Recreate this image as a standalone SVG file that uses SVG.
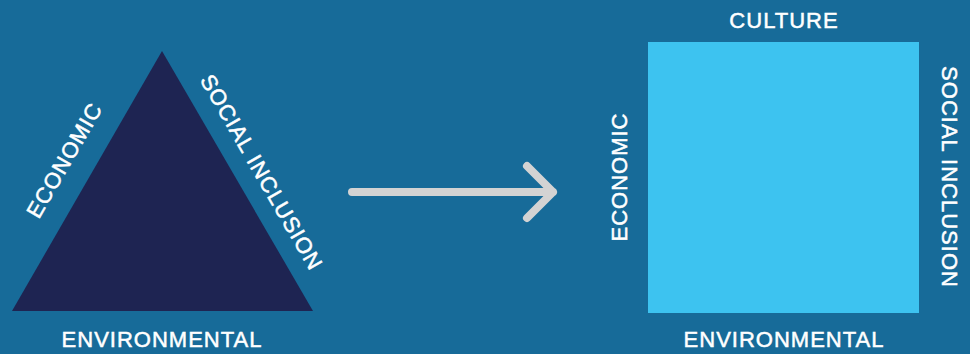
<svg xmlns="http://www.w3.org/2000/svg" width="970" height="354" viewBox="0 0 970 354">
<style>
.lbl{font-family:"Liberation Sans",Arial,sans-serif;font-size:22px;fill:#ffffff;stroke:#ffffff;stroke-width:0.5;letter-spacing:1px;text-anchor:middle}
.arrow{stroke:#d3d3d3;stroke-width:8;stroke-linecap:round;stroke-linejoin:round;fill:none}
</style>
<rect width="970" height="354" fill="#176b99"/>
<g id="triangle">
<polygon points="162,51 12,311 313,311" fill="#1e2452"/>
<text class="lbl" transform="translate(71,164) rotate(-60)">ECONOMIC</text>
<text class="lbl" transform="translate(255,176) rotate(60)">SOCIAL INCLUSION</text>
<text class="lbl" x="162" y="347">ENVIRONMENTAL</text>
</g>
<g id="connectors">
<path class="arrow" d="M352,192 H553 M527,166 L553,192 L527,218"/>
</g>
<g id="square">
<rect x="648" y="42" width="271" height="271" fill="#3dc3f0"/>
<text class="lbl" x="784" y="28">CULTURE</text>
<text class="lbl" transform="translate(627,177) rotate(-90)">ECONOMIC</text>
<text class="lbl" transform="translate(942,177) rotate(90)">SOCIAL INCLUSION</text>
<text class="lbl" x="784" y="347">ENVIRONMENTAL</text>
</g>
</svg>
